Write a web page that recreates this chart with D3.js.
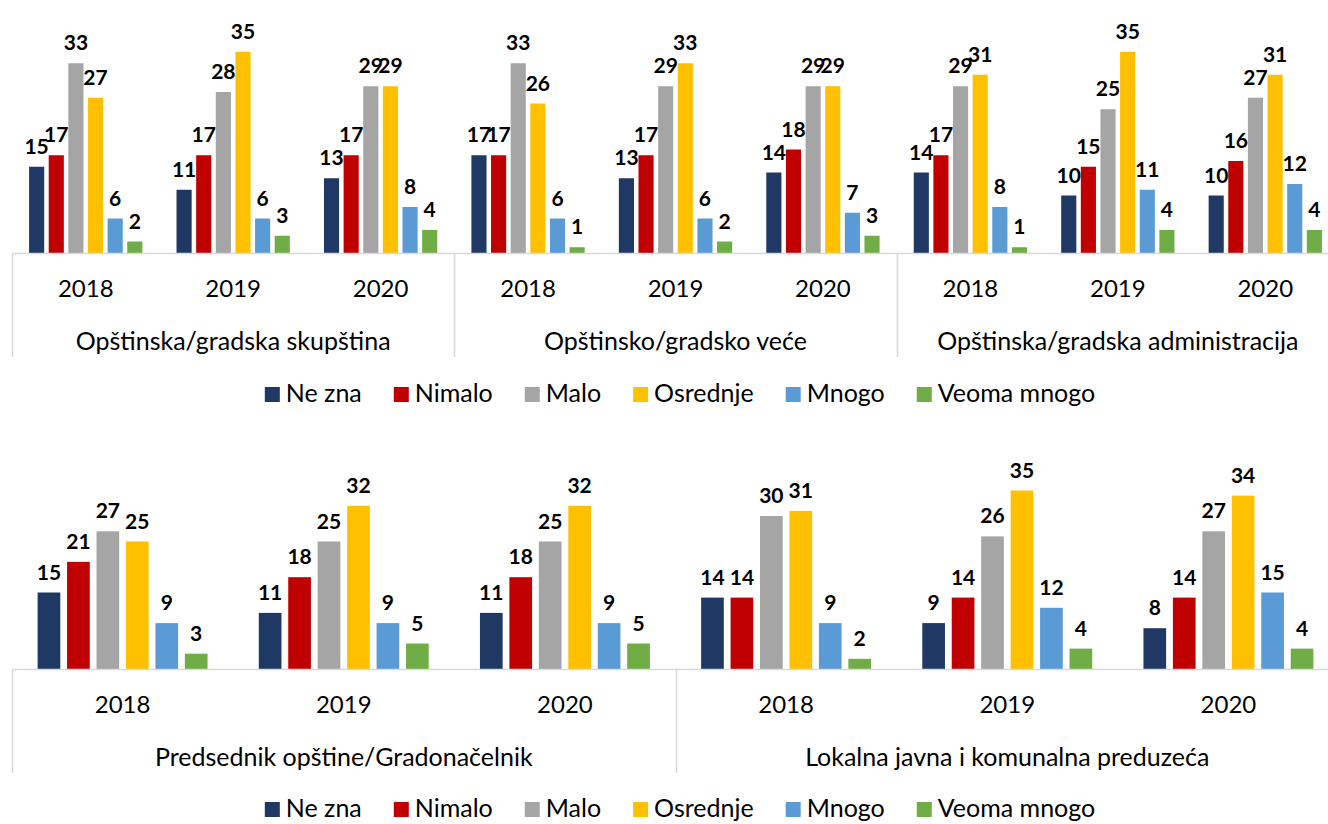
<!DOCTYPE html>
<html lang="en">
  <head>
    <meta charset="utf-8">
    <title>Poverenje u lokalne institucije</title>
    <script type="text/javascript" src="https://cdn.jsdelivr.net/npm/d3@7"></script>
    <style>
      body { margin: 0; background: #fff; }
      text { font-family: Lato, "Open Sans", sans-serif; fill: #000; }
    </style>
  </head>
  <body>
    <script type="text/javascript">
    // series (answer categories) and their colours
    var series = ["Ne zna", "Nimalo", "Malo", "Osrednje", "Mnogo", "Veoma mnogo"];
    var colours = ["#203864", "#C00000", "#A5A5A5", "#FFC000", "#5B9BD5", "#70AD47"];
    var years = ["2018", "2019", "2020"];

    // top chart institutions
    var topInstitutions = ["Opštinska/gradska skupština", "Opštinsko/gradsko veće", "Opštinska/gradska administracija"];
    // values per year (rows) and series (columns)
    var skupstina      = [[15, 17, 33, 27, 6, 2], [11, 17, 28, 35, 6, 3], [13, 17, 29, 29, 8, 4]];
    var vece           = [[17, 17, 33, 26, 6, 1], [13, 17, 29, 33, 6, 2], [14, 18, 29, 29, 7, 3]];
    var administracija = [[14, 17, 29, 31, 8, 1], [10, 15, 25, 35, 11, 4], [10, 16, 27, 31, 12, 4]];

    // bottom chart institutions
    var bottomInstitutions = ["Predsednik opštine/Gradonačelnik", "Lokalna javna i komunalna preduzeća"];
    var predsednik = [[15, 21, 27, 25, 9, 3], [11, 18, 25, 32, 9, 5], [11, 18, 25, 32, 9, 5]];
    var preduzeca  = [[14, 14, 30, 31, 9, 2], [9, 14, 26, 35, 12, 4], [8, 14, 27, 34, 15, 4]];

    var w = 1328;
    var h = 824;

    var svg = d3.select("body")
                .append("svg")
                .attr("width", w)
                .attr("height", h);

    var axisColour = "#D9D9D9";

    // draws one clustered bar panel with a two level category axis and a legend
    var drawPanel = function(institutions, values, opt) {
      var g = svg.append("g");

      var x0 = d3.scaleBand().domain(institutions).range([12, 1339]);
      var x1 = d3.scaleBand().domain(years).range([0, x0.bandwidth()]);
      var x2 = d3.scaleBand().domain(series).range([0, x1.bandwidth()])
                 .paddingInner(0.23).paddingOuter(0.87);
      var y = d3.scaleLinear().domain([0, 40])
                .range([opt.base, opt.base - 40 * opt.unit]);

      institutions.forEach(function(inst, i) {
        var gi = g.append("g").attr("transform", "translate(" + x0(inst) + ",0)");
        years.forEach(function(yr, j) {
          var gy = gi.append("g").attr("transform", "translate(" + x1(yr) + ",0)");
          var rows = series.map(function(s, k) { return {s: s, v: values[i][j][k], c: colours[k]}; });

          gy.selectAll("rect")
            .data(rows)
            .enter()
            .append("rect")
            .attr("x", function(d) { return x2(d.s); })
            .attr("y", function(d) { return y(d.v); })
            .attr("width", x2.bandwidth())
            .attr("height", function(d) { return y(0) - y(d.v); })
            .attr("fill", function(d) { return d.c; });

          gy.selectAll("text.val")
            .data(rows)
            .enter()
            .append("text")
            .attr("class", "val")
            .attr("x", function(d) { return x2(d.s) + x2.bandwidth() / 2; })
            .attr("y", function(d) { return y(d.v) - 13; })
            .attr("text-anchor", "middle")
            .style("font-size", "21px")
            .style("font-weight", "bold")
            .text(function(d) { return d.v; });

          // year label
          gy.append("text")
            .attr("x", x1.bandwidth() / 2)
            .attr("y", opt.base + 44)
            .attr("text-anchor", "middle")
            .style("font-size", "24px")
            .text(yr);
        });

        // institution label
        gi.append("text")
          .attr("x", x0.bandwidth() / 2)
          .attr("y", opt.base + 97)
          .attr("text-anchor", "middle")
          .style("font-size", "25px")
          .text(inst);
      });

      // axis line and group separators
      g.append("line")
       .attr("x1", 12).attr("x2", 1339)
       .attr("y1", opt.base + 0.5).attr("y2", opt.base + 0.5)
       .attr("stroke", axisColour).attr("stroke-width", 1.5);

      var edges = institutions.map(function(d) { return x0(d); }).concat([x0.range()[1]]);
      g.selectAll("line.sep")
       .data(edges)
       .enter()
       .append("line")
       .attr("class", "sep")
       .attr("x1", function(d) { return Math.round(d) + 0.5; })
       .attr("x2", function(d) { return Math.round(d) + 0.5; })
       .attr("y1", opt.base)
       .attr("y2", opt.base + 104)
       .attr("stroke", axisColour).attr("stroke-width", 1.5);

      // legend, laid out from text widths and centred
      var lg = svg.append("g");
      var items = lg.selectAll("g")
                    .data(series)
                    .enter()
                    .append("g");
      items.append("rect")
           .attr("y", opt.legend - 15)
           .attr("width", 15)
           .attr("height", 15)
           .attr("fill", function(d, i) { return colours[i]; });
      items.append("text")
           .attr("x", 21)
           .attr("y", opt.legend)
           .style("font-size", "25px")
           .text(function(d) { return d; });

      var xpos = 0;
      items.each(function() {
        var tw = d3.select(this).select("text").node().getComputedTextLength();
        d3.select(this).attr("data-x", xpos);
        xpos += 21 + tw + 32;
      });
      var total = xpos - 32;
      var start = 680 - total / 2;
      items.attr("transform", function() {
        return "translate(" + (start + (+d3.select(this).attr("data-x"))) + ",0)";
      });
    }

    drawPanel(topInstitutions, [skupstina, vece, administracija], {base: 253, unit: 5.75, legend: 402});
    drawPanel(bottomInstitutions, [predsednik, preduzeca], {base: 669, unit: 5.1, legend: 817});

    </script>
  </body>
</html>
